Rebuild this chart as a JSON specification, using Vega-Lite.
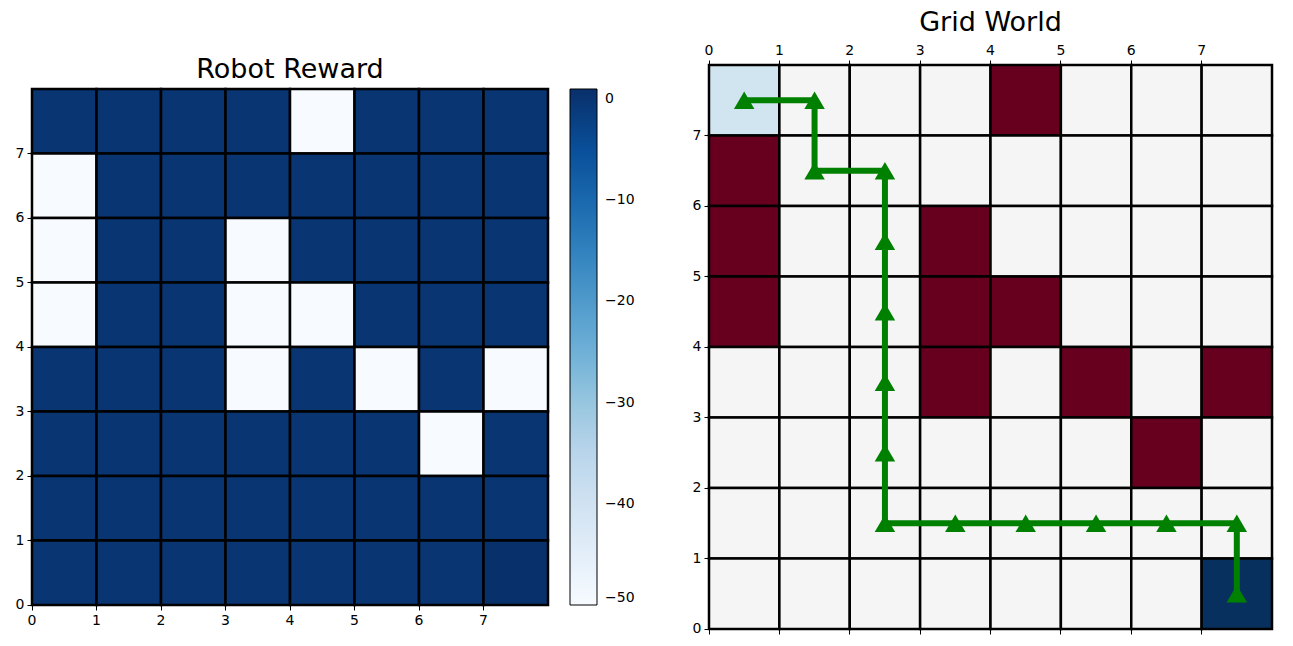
{
  "$schema": "https://vega.github.io/schema/vega-lite/v6.json",
  "background": "white",
  "padding": {"left": 14, "top": 8, "right": 5, "bottom": 5},
  "datasets": {
    "cells": [
      {"c": 0, "r": 7, "reward": 0, "kind": "start"},
      {"c": 1, "r": 7, "reward": 0, "kind": "free"},
      {"c": 2, "r": 7, "reward": 0, "kind": "free"},
      {"c": 3, "r": 7, "reward": 0, "kind": "free"},
      {"c": 4, "r": 7, "reward": -50, "kind": "obstacle"},
      {"c": 5, "r": 7, "reward": 0, "kind": "free"},
      {"c": 6, "r": 7, "reward": 0, "kind": "free"},
      {"c": 7, "r": 7, "reward": 0, "kind": "free"},
      {"c": 0, "r": 6, "reward": -50, "kind": "obstacle"},
      {"c": 1, "r": 6, "reward": 0, "kind": "free"},
      {"c": 2, "r": 6, "reward": 0, "kind": "free"},
      {"c": 3, "r": 6, "reward": 0, "kind": "free"},
      {"c": 4, "r": 6, "reward": 0, "kind": "free"},
      {"c": 5, "r": 6, "reward": 0, "kind": "free"},
      {"c": 6, "r": 6, "reward": 0, "kind": "free"},
      {"c": 7, "r": 6, "reward": 0, "kind": "free"},
      {"c": 0, "r": 5, "reward": -50, "kind": "obstacle"},
      {"c": 1, "r": 5, "reward": 0, "kind": "free"},
      {"c": 2, "r": 5, "reward": 0, "kind": "free"},
      {"c": 3, "r": 5, "reward": -50, "kind": "obstacle"},
      {"c": 4, "r": 5, "reward": 0, "kind": "free"},
      {"c": 5, "r": 5, "reward": 0, "kind": "free"},
      {"c": 6, "r": 5, "reward": 0, "kind": "free"},
      {"c": 7, "r": 5, "reward": 0, "kind": "free"},
      {"c": 0, "r": 4, "reward": -50, "kind": "obstacle"},
      {"c": 1, "r": 4, "reward": 0, "kind": "free"},
      {"c": 2, "r": 4, "reward": 0, "kind": "free"},
      {"c": 3, "r": 4, "reward": -50, "kind": "obstacle"},
      {"c": 4, "r": 4, "reward": -50, "kind": "obstacle"},
      {"c": 5, "r": 4, "reward": 0, "kind": "free"},
      {"c": 6, "r": 4, "reward": 0, "kind": "free"},
      {"c": 7, "r": 4, "reward": 0, "kind": "free"},
      {"c": 0, "r": 3, "reward": 0, "kind": "free"},
      {"c": 1, "r": 3, "reward": 0, "kind": "free"},
      {"c": 2, "r": 3, "reward": 0, "kind": "free"},
      {"c": 3, "r": 3, "reward": -50, "kind": "obstacle"},
      {"c": 4, "r": 3, "reward": 0, "kind": "free"},
      {"c": 5, "r": 3, "reward": -50, "kind": "obstacle"},
      {"c": 6, "r": 3, "reward": 0, "kind": "free"},
      {"c": 7, "r": 3, "reward": -50, "kind": "obstacle"},
      {"c": 0, "r": 2, "reward": 0, "kind": "free"},
      {"c": 1, "r": 2, "reward": 0, "kind": "free"},
      {"c": 2, "r": 2, "reward": 0, "kind": "free"},
      {"c": 3, "r": 2, "reward": 0, "kind": "free"},
      {"c": 4, "r": 2, "reward": 0, "kind": "free"},
      {"c": 5, "r": 2, "reward": 0, "kind": "free"},
      {"c": 6, "r": 2, "reward": -50, "kind": "obstacle"},
      {"c": 7, "r": 2, "reward": 0, "kind": "free"},
      {"c": 0, "r": 1, "reward": 0, "kind": "free"},
      {"c": 1, "r": 1, "reward": 0, "kind": "free"},
      {"c": 2, "r": 1, "reward": 0, "kind": "free"},
      {"c": 3, "r": 1, "reward": 0, "kind": "free"},
      {"c": 4, "r": 1, "reward": 0, "kind": "free"},
      {"c": 5, "r": 1, "reward": 0, "kind": "free"},
      {"c": 6, "r": 1, "reward": 0, "kind": "free"},
      {"c": 7, "r": 1, "reward": 0, "kind": "free"},
      {"c": 0, "r": 0, "reward": 0, "kind": "free"},
      {"c": 1, "r": 0, "reward": 0, "kind": "free"},
      {"c": 2, "r": 0, "reward": 0, "kind": "free"},
      {"c": 3, "r": 0, "reward": 0, "kind": "free"},
      {"c": 4, "r": 0, "reward": 0, "kind": "free"},
      {"c": 5, "r": 0, "reward": 0, "kind": "free"},
      {"c": 6, "r": 0, "reward": 0, "kind": "free"},
      {"c": 7, "r": 0, "reward": 1, "kind": "goal"}
    ],
    "path": [
      {"step": 0, "c": 0, "r": 7},
      {"step": 1, "c": 1, "r": 7},
      {"step": 2, "c": 1, "r": 6},
      {"step": 3, "c": 2, "r": 6},
      {"step": 4, "c": 2, "r": 5},
      {"step": 5, "c": 2, "r": 4},
      {"step": 6, "c": 2, "r": 3},
      {"step": 7, "c": 2, "r": 2},
      {"step": 8, "c": 2, "r": 1},
      {"step": 9, "c": 3, "r": 1},
      {"step": 10, "c": 4, "r": 1},
      {"step": 11, "c": 5, "r": 1},
      {"step": 12, "c": 6, "r": 1},
      {"step": 13, "c": 7, "r": 1},
      {"step": 14, "c": 7, "r": 0}
    ]
  },
  "bounds": "flush",
  "center": true,
  "spacing": 161,
  "hconcat": [
    {
      "width": 516,
      "height": 516,
      "title": {"text": "Robot Reward", "fontSize": 27, "fontWeight": "normal", "offset": 4},
      "data": {"name": "cells"},
      "mark": {"type": "rect", "stroke": "black", "strokeWidth": 2.5},
      "encoding": {
        "x": {"field": "c", "type": "ordinal", "scale": {"domain": [0, 1, 2, 3, 4, 5, 6, 7], "padding": 0}, "axis": {"bandPosition": 0, "labelOffset": -32.25, "labelAngle": 0, "labelFontSize": 14, "title": null}},
        "y": {"field": "r", "type": "ordinal", "scale": {"domain": [7, 6, 5, 4, 3, 2, 1, 0], "padding": 0}, "axis": {"bandPosition": 1, "labelOffset": 32.25, "labelFontSize": 14, "title": null}},
        "color": {
          "field": "reward",
          "type": "quantitative",
          "scale": {
            "domain": [-50, -43.625, -37.25, -30.875, -24.5, -18.125, -11.75, -5.375, 1],
            "range": ["#f7fbff", "#deebf7", "#c6dbef", "#9ecae1", "#6baed6", "#4292c6", "#2171b5", "#08519c", "#08306b"]
          },
          "legend": {
            "title": null,
            "orient": "right",
            "offset": 22,
            "padding": 0,
            "gradientLength": 516,
            "gradientThickness": 27,
            "gradientStrokeColor": "black",
            "gradientStrokeWidth": 1,
            "values": [0, -10, -20, -30, -40, -50],
            "labelExpr": "replace(datum.label, '-', '−')",
            "labelFontSize": 14,
            "labelColor": "black",
            "labelOffset": 8,
            "labelBaseline": "middle",
            "labelFont": "DejaVu Sans"
          }
        }
      }
    },
    {
      "width": 563,
      "height": 564,
      "title": {"text": "Grid World", "fontSize": 27, "fontWeight": "normal", "offset": 6},
      "layer": [
        {
          "data": {"name": "cells"},
          "mark": {"type": "rect", "stroke": "black", "strokeWidth": 2.5},
          "encoding": {
            "x": {"field": "c", "type": "ordinal", "scale": {"domain": [0, 1, 2, 3, 4, 5, 6, 7], "padding": 0}, "axis": {"orient": "top", "bandPosition": 0, "labelOffset": -35.19, "labelAngle": 0, "labelFontSize": 14, "title": null}},
            "y": {"field": "r", "type": "ordinal", "scale": {"domain": [7, 6, 5, 4, 3, 2, 1, 0], "padding": 0}, "axis": {"bandPosition": 1, "labelOffset": 35.25, "labelFontSize": 14, "title": null}},
            "color": {
              "field": "kind",
              "type": "nominal",
              "scale": {"domain": ["free", "obstacle", "start", "goal"], "range": ["#f5f5f5", "#67001f", "#d1e5f0", "#08305e"]},
              "legend": null
            }
          }
        },
        {
          "data": {"name": "path"},
          "mark": {"type": "line", "color": "green", "strokeWidth": 6},
          "encoding": {
            "x": {"field": "c", "type": "ordinal", "scale": {"domain": [0, 1, 2, 3, 4, 5, 6, 7], "padding": 0}, "axis": {"orient": "bottom", "bandPosition": 0, "labels": false, "title": null}},
            "y": {"field": "r", "type": "ordinal", "scale": {"domain": [7, 6, 5, 4, 3, 2, 1, 0], "padding": 0}},
            "order": {"field": "step", "type": "quantitative"}
          }
        },
        {
          "data": {"name": "path"},
          "mark": {"type": "point", "shape": "triangle-up", "filled": true, "color": "green", "opacity": 1, "size": 420},
          "encoding": {
            "x": {"field": "c", "type": "ordinal", "scale": {"domain": [0, 1, 2, 3, 4, 5, 6, 7], "padding": 0}, "axis": null},
            "y": {"field": "r", "type": "ordinal", "scale": {"domain": [7, 6, 5, 4, 3, 2, 1, 0], "padding": 0}}
          }
        }
      ],
      "resolve": {"axis": {"x": "independent"}}
    }
  ],
  "config": {
    "font": "DejaVu Sans",
    "view": {"stroke": "black", "strokeWidth": 1},
    "title": {"font": "DejaVu Sans", "color": "black"},
    "axis": {
      "labelFont": "DejaVu Sans",
      "labelFontSize": 14,
      "labelColor": "black",
      "tickColor": "black",
      "tickSize": 5,
      "tickWidth": 1,
      "domain": false,
      "grid": false,
      "labelPadding": 3
    }
  }
}
